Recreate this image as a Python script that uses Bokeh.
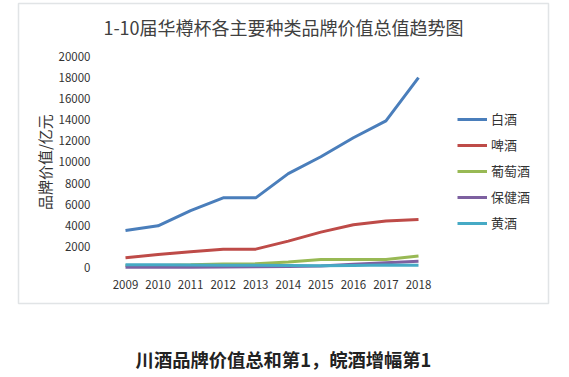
import math
from bokeh.plotting import figure
from bokeh.models import Label, BoxAnnotation, FixedTicker, Range1d
from bokeh.embed import file_html
from bokeh.resources import INLINE

years = [2009, 2010, 2011, 2012, 2013, 2014, 2015, 2016, 2017, 2018]
baijiu = [3500, 3950, 5400, 6600, 6600, 8900, 10500, 12300, 13900, 18000]
pijiu = [920, 1230, 1500, 1740, 1740, 2500, 3350, 4050, 4400, 4550]
putaojiu = [200, 200, 250, 330, 360, 520, 750, 760, 760, 1100]
baojianjiu = [20, 20, 30, 50, 70, 100, 150, 300, 450, 600]
huangjiu = [250, 250, 240, 220, 210, 190, 170, 200, 230, 220]
series_names = ["白酒", "啤酒", "葡萄酒", "保健酒", "黄酒"]
y_ticks = [0, 2000, 4000, 6000, 8000, 10000, 12000, 14000, 16000, 18000, 20000]
title_text = "1-10届华樽杯各主要种类品牌价值总值趋势图"
y_label = "品牌价值/亿元"
caption = "川酒品牌价值总和第1，皖酒增幅第1"

colors = ["#4A7EBB", "#BE4B48", "#98B954", "#7D60A0", "#46AAC5"]
FONT = "Noto Sans CJK SC"

# frame covers the whole canvas: x 32.556 px per year (2009 at px 125),
# y 94.787 units per px (0 at px 267 from top)
p = figure(width=569, height=377, output_backend="svg", toolbar_location=None,
           x_range=Range1d(2005.1604, 2022.638), y_range=Range1d(-10426.6, 25308.1),
           min_border=0)
p.background_fill_color = "white"
p.border_fill_color = "white"
p.outline_line_color = None
p.grid.visible = False

box = BoxAnnotation(left=2005.7134, right=2021.993, bottom=-3412.3, top=25023.8,
                    fill_alpha=0, line_color="#9AA4AD", line_width=1.5, level="underlay")
p.add_layout(box)

for name, vals, c in zip(series_names, [baijiu, pijiu, putaojiu, baojianjiu, huangjiu], colors):
    p.line(years, vals, line_color=c, line_width=3, legend_label=name)

p.yaxis.ticker = FixedTicker(ticks=y_ticks)
p.xaxis.ticker = FixedTicker(ticks=years)
p.yaxis.fixed_location = 2008.3857
p.xaxis.fixed_location = -284.4
for ax in (p.xaxis, p.yaxis):
    ax.axis_line_color = None
    ax.major_tick_line_color = None
    ax.minor_tick_line_color = None
    ax.major_label_text_font = FONT
    ax.major_label_text_font_size = "11.5px"
    ax.major_label_text_color = "#333333"
p.yaxis.major_label_standoff = 9
p.xaxis.major_label_standoff = 3

lg = p.legend[0]
lg.location = (457, 144.5)
lg.border_line_color = None
lg.background_fill_alpha = 0
lg.padding = 0
lg.margin = 0
lg.spacing = 6
lg.glyph_width = 30
lg.glyph_height = 20
lg.label_standoff = 4
lg.label_text_font = FONT
lg.label_text_font_size = "13px"
lg.label_text_color = "#333333"

p.add_layout(Label(x=2006.4966, y=9983, text=y_label, angle=math.pi / 2,
                   text_align="center", text_baseline="middle", text_font=FONT,
                   text_font_size="15px", text_color="#333333"))
p.add_layout(Label(x=2013.853, y=22750, text=title_text, text_align="center",
                   text_baseline="middle", text_font=FONT, text_font_size="18px",
                   text_color="#404040"))
p.add_layout(Label(x=2013.853, y=-8673, text=caption, text_align="center",
                   text_baseline="middle", text_font=FONT, text_font_size="18.3px",
                   text_font_style="bold", text_color="#222222"))

open("out.html", "w").write(file_html(p, INLINE))
